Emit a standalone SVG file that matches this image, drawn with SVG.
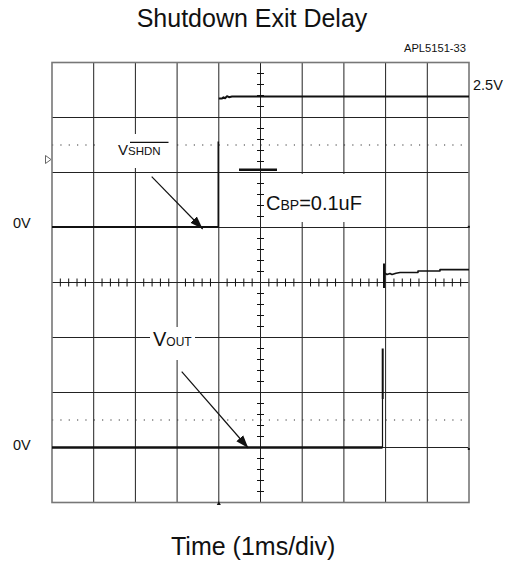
<svg xmlns="http://www.w3.org/2000/svg" width="508" height="563" viewBox="0 0 508 563">
<style>
text{font-family:"Liberation Sans",Arial,sans-serif;fill:#111}
.grid{stroke:#222;stroke-width:1;fill:none}
.border{stroke:#777;stroke-width:1.6;fill:none}
.dot{stroke:#333;stroke-width:1.2;stroke-dasharray:1.2 7.14;fill:none}
.tick{stroke:#111;stroke-width:1;fill:none}
.trace{stroke:#111;fill:none;stroke-linejoin:round}
.bg{fill:#fff}
.arrow{stroke:#111;stroke-width:1.2;fill:none;marker-end:url(#ah)}
</style>
<defs>
<marker id="ah" markerUnits="userSpaceOnUse" markerWidth="14" markerHeight="10" refX="13" refY="5" orient="auto">
<path d="M0,0.5 L13,5 L0,9.5 z" fill="#111"/>
</marker>
</defs>
<rect width="508" height="563" fill="#fff"/>
<g id="title">
<text x="252" y="27" font-size="25" text-anchor="middle">Shutdown Exit Delay</text>
<text x="404" y="52" font-size="11.5" textLength="62" lengthAdjust="spacingAndGlyphs">APL5151-33</text>
</g>
<g id="grid">
<path class="grid" d="M93.7 62.5V502.5M135.4 62.5V502.5M177.1 62.5V502.5M218.8 62.5V502.5M302.2 62.5V502.5M343.9 62.5V502.5M385.6 62.5V502.5M427.3 62.5V502.5M52 117.5H469M52 172.5H469M52 227.5H469M52 337.5H469M52 392.5H469M52 447.5H469"/>
<path class="grid" stroke="#000" d="M260.5 62.5V502.5M52 282.5H469"/>
<path class="dot" d="M52 145H469M52 420H469"/>
<path class="tick" d="M257 73.5h7M257 84.5h7M257 95.5h7M257 106.5h7M257 128.5h7M257 139.5h7M257 150.5h7M257 161.5h7M257 183.5h7M257 194.5h7M257 205.5h7M257 216.5h7M257 238.5h7M257 249.5h7M257 260.5h7M257 271.5h7M257 293.5h7M257 304.5h7M257 315.5h7M257 326.5h7M257 348.5h7M257 359.5h7M257 370.5h7M257 381.5h7M257 403.5h7M257 414.5h7M257 425.5h7M257 436.5h7M257 458.5h7M257 469.5h7M257 480.5h7M257 491.5h7"/>
<path class="tick" d="M60.34 278.5v8M68.68 278.5v8M77.02 278.5v8M85.36 278.5v8M102.04 278.5v8M110.38 278.5v8M118.72 278.5v8M127.06 278.5v8M143.74 278.5v8M152.08 278.5v8M160.42 278.5v8M168.76 278.5v8M185.44 278.5v8M193.78 278.5v8M202.12 278.5v8M210.46 278.5v8M227.14 278.5v8M235.48 278.5v8M243.82 278.5v8M252.16 278.5v8M268.84 278.5v8M277.18 278.5v8M285.52 278.5v8M293.86 278.5v8M310.54 278.5v8M318.88 278.5v8M327.22 278.5v8M335.56 278.5v8M352.24 278.5v8M360.58 278.5v8M368.92 278.5v8M377.26 278.5v8M393.94 278.5v8M402.28 278.5v8M410.62 278.5v8M418.96 278.5v8M435.64 278.5v8M443.98 278.5v8M452.32 278.5v8M460.66 278.5v8"/>
<rect class="border" x="52" y="62.5" width="417" height="440"/>
<path d="M45.5 155.5 L51 159.5 L45.5 163.5 z" fill="#fff" stroke="#666" stroke-width="1"/>
<path d="M216.8 505 L220.8 505 L218.8 501 z" fill="#111"/>
</g>
<g id="traces">
<path class="trace" stroke-width="2.2" d="M52 227 H218.3"/>
<path class="trace" stroke-width="1.6" d="M218.3 227 V141.5"/>
<path class="trace" stroke-width="2" d="M218.8 98.5 H222 L223.5 97.3 L225 98.2 L227 96.2 L229 97.2 L232 96.6 H469"/>
<path class="trace" stroke-width="2.6" d="M239 169.8 H277"/>
<path class="trace" stroke-width="2.4" d="M52 447.5 H382.5"/>
<path class="trace" stroke-width="1.2" d="M382.5 447.5 V399"/>
<path class="trace" stroke-width="2" d="M382.7 399 V348.5"/>
<path class="trace" stroke-width="2" d="M384 288 V263.5"/>
<path class="trace" stroke-width="1.6" d="M384.5 273 L387 274.5 L390 273.5 L392 274.5 L396 273.2 L400 272.5 H418 V271 H440 V269.6 H469"/>
<rect x="467.8" y="225.8" width="2" height="2" fill="#111"/>
<rect x="467.8" y="448" width="2" height="2" fill="#111"/>
</g>
<g id="axis-labels">
<text x="473" y="90" font-size="14.5">2.5V</text>
<text x="13" y="228" font-size="14.5">0V</text>
<text x="13" y="450" font-size="14.5">0V</text>
<text x="171" y="555" font-size="25">Time (1ms/div)</text>
</g>
<g id="label-vshdn">
<rect class="bg" x="98" y="134" width="74" height="34"/>
<text x="118" y="154.5"><tspan font-size="15">V</tspan><tspan font-size="11.5">SHDN</tspan></text>
<path d="M130 142.3 H168.5" stroke="#111" stroke-width="1.2"/>
</g>
<g id="label-cbp">
<rect class="bg" x="265" y="174" width="101" height="48"/>
<text x="266" y="210"><tspan font-size="20">C</tspan><tspan font-size="14">BP</tspan><tspan font-size="20">=0.1uF</tspan></text>
</g>
<g id="label-vout">
<rect class="bg" x="150" y="327" width="45" height="33"/>
<text x="153" y="346"><tspan font-size="20">V</tspan><tspan font-size="12">OUT</tspan></text>
</g>
<g id="connectors">
<path class="arrow" d="M151.7 176.7 L202.7 229"/>
<path class="arrow" d="M181.7 371.7 L248.3 448"/>
</g>
</svg>
